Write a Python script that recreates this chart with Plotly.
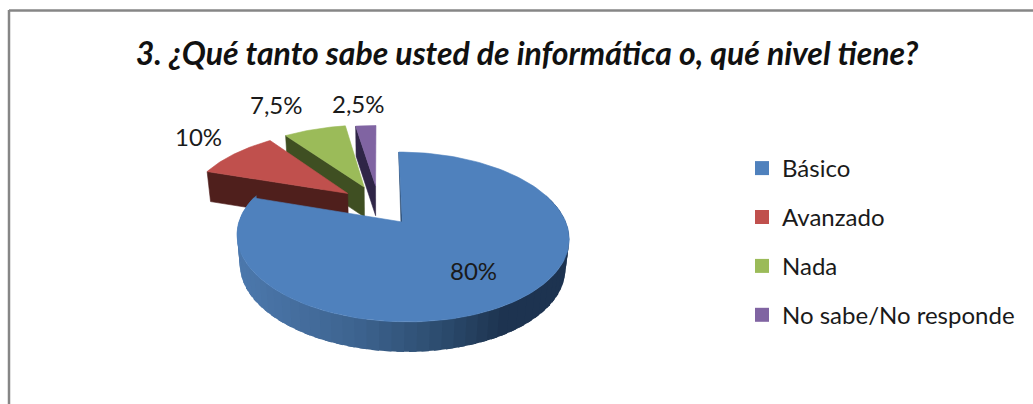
import numpy as np
import plotly.graph_objects as go

# ---- data ----
categories = ["Básico", "Avanzado", "Nada", "No sabe/No responde"]
shares = [80, 10, 7.5, 2.5]
value_labels = ["80%", "10%", "7,5%", "2,5%"]
title_text = "3. ¿Qué tanto sabe usted de informática o, qué nivel tiene?"

# ---- styles ----
top_colors = ["#4f81bd", "#c0504d", "#9bbb59", "#8064a2"]
wall_colors = ["#2a4a70", "#4f1f1c", "#3f4f22", "#2f2547"]
blue_wall_stops = [(0.0, (76, 120, 172)), (0.35, (62, 100, 144)),
                   (0.62, (44, 76, 110)), (0.8, (30, 52, 80)), (1.0, (29, 51, 80))]
FONT = "Lato, Carlito, sans-serif"
TEXT = "#1a1a1a"
W, H = 1033, 404

# ---- pseudo-3D projection of the pie disc, in pixel-valued axes ----
GX, GY, A, B, K = 378.5, 205.0, 157.5, 76.4, 0.17
EX, EY = 0.248, 0.265
DEPTH, SHRINK = 30.0, 0.98
RADIUS = [1.0, 1.025, 1.025, 1.0]


def project(u, v, low=False):
    d = 1 + K * v
    x = GX + A * u / d
    y = GY - B * v / d
    if low:
        x = GX + (x - GX) * SHRINK
        y = y + DEPTH
    return x, y


def slice_geometry(i):
    start = sum(shares[:i]) / sum(shares) * 2 * np.pi
    end = sum(shares[:i + 1]) / sum(shares) * 2 * np.pi
    mid = (start + end) / 2
    return start, end, EX * np.sin(mid), EY * np.cos(mid)


def rim(t, ox, oy, low=False, r=1.0):
    return project(r * np.sin(t) + ox, r * np.cos(t) + oy, low)


def poly(xs, ys, color, width=0.6):
    return go.Scatter(x=list(xs), y=list(ys), mode="lines", fill="toself", fillcolor=color,
                      line=dict(color=color, width=width), hoverinfo="skip", showlegend=False)


def blue_shade(f):
    f = min(max(f, 0), 1)
    pos = [s[0] for s in blue_wall_stops]
    rgb = [np.interp(f, pos, [s[1][c] for s in blue_wall_stops]) for c in range(3)]
    return "rgb(%d,%d,%d)" % tuple(rgb)


fig = go.Figure()

# small slices, back to front
for i in [3, 2, 1]:
    start, end, ox, oy = slice_geometry(i)
    r = RADIUS[i]
    x0, y0 = rim(start, ox, oy, r=r)
    x1, y1 = project(ox, oy)
    x2, y2 = project(ox, oy, True)
    x3, y3 = rim(start, ox, oy, True, r=r)
    fig.add_trace(poly([x0, x1, x2, x3, x0], [y0, y1, y2, y3, y0], wall_colors[i]))
    t = np.linspace(start, end, 40)
    ax, ay = rim(t, ox, oy, r=r)
    vx, vy = project(ox, oy)
    fig.add_trace(poly([vx, *ax, vx], [vy, *ay, vy], top_colors[i]))

# main slice: outer wall as overlapping shaded bands
start, end, ox, oy = slice_geometry(0)
edges = np.linspace(np.radians(70), end, 60)
step = edges[1] - edges[0]
xl = project(np.sin(np.radians(270)) + ox, np.cos(np.radians(270)) + oy)[0]
xr = project(np.sin(np.radians(90)) + ox, np.cos(np.radians(90)) + oy)[0]
for t0 in edges[:-1]:
    band = np.linspace(t0, t0 + 1.6 * step, 5)
    ax, ay = rim(band, ox, oy)
    bx, by = rim(band[::-1], ox, oy, True)
    mx = rim(t0 + step / 2, ox, oy)[0]
    shade = blue_shade((xl + 2 - mx) / (xl - xr))
    fig.add_trace(poly([*ax, *bx, ax[0]], [*ay, *by, ay[0]], shade, width=0))

vx, vy = project(ox, oy)
vx2, vy2 = project(ox, oy, True)
x0, y0 = rim(start, ox, oy)
fig.add_trace(poly([x0, vx, vx2, x0], [y0, vy, vy2, y0], wall_colors[0]))
t = np.linspace(start, end, 160)
ax, ay = rim(t, ox, oy)
fig.add_trace(poly([vx, *ax, vx], [vy, *ay, vy], top_colors[0]))

# legend entries
for i, name in enumerate(categories):
    fig.add_trace(go.Scatter(x=[None], y=[None], mode="markers", name=name, legendgroup=name,
                             marker=dict(symbol="square", size=14, color=top_colors[i],
                                         line=dict(width=0))))

# value labels
label_centres = [(473, 270), (198, 136), (276, 104), (358, 103)]
for text, (lx, ly) in zip(value_labels, label_centres):
    fig.add_annotation(x=lx, y=ly, text=text, showarrow=False, xanchor="center", yanchor="middle",
                       font=dict(family=FONT, size=24, color=TEXT))

fig.update_layout(
    width=W, height=H, margin=dict(l=0, r=0, t=0, b=0),
    paper_bgcolor="white", plot_bgcolor="white",
    xaxis=dict(range=[0, W], visible=False, fixedrange=True),
    yaxis=dict(range=[H, 0], visible=False, fixedrange=True),
    title=dict(text="<b><i>" + title_text + "</i></b>", x=527 / W, xanchor="center",
               y=1 - 54 / H, yanchor="middle", font=dict(family=FONT, size=32, color="#111111")),
    legend=dict(x=742 / W, xanchor="left", y=1 - 146 / H, yanchor="top", tracegroupgap=14.7,
                traceorder="grouped", font=dict(family=FONT, size=24, color=TEXT),
                bgcolor="rgba(0,0,0,0)", itemclick=False, itemdoubleclick=False),
    shapes=[
        dict(type="line", x0=9, x1=W, y0=10.5, y1=10.5, line=dict(color="#868686", width=2.5)),
        dict(type="line", x0=9, x1=9, y0=10, y1=H, line=dict(color="#868686", width=2.5)),
    ],
)

fig.write_html("out.html", config={"displayModeBar": False},
               post_script="document.body.style.margin='0';document.documentElement.style.overflow='hidden';")
